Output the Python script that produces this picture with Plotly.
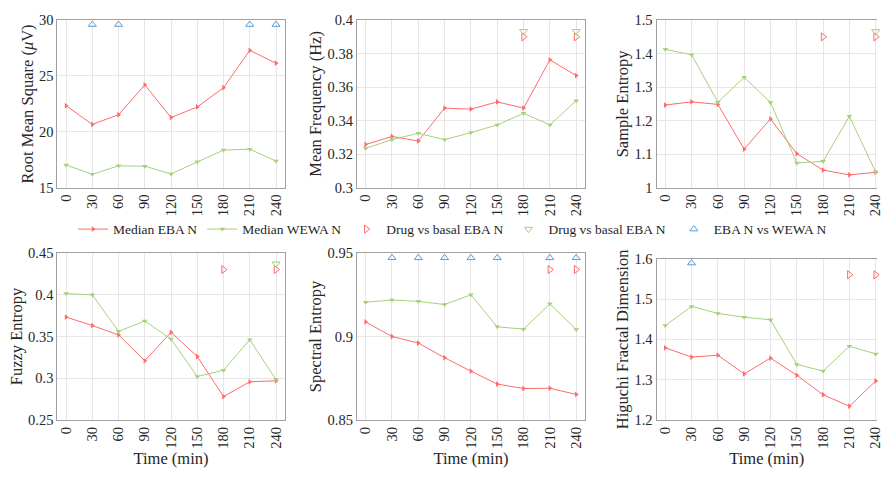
import plotly.graph_objects as go

# ---------------- data ----------------
times = [0, 30, 60, 90, 120, 150, 180, 210, 240]
x_ticks = [0, 30, 60, 90, 120, 150, 180, 210, 240]

rms_eba = [22.34, 20.67, 21.53, 24.21, 21.28, 22.23, 23.95, 27.29, 26.14]
rms_wewa = [17.04, 16.21, 16.96, 16.93, 16.24, 17.33, 18.37, 18.45, 17.39]
rms_sig_groups_t = [30, 60, 210, 240]
rms_sig_groups_y = 29.6

mf_eba = [0.3258, 0.3306, 0.3279, 0.3475, 0.3469, 0.3512, 0.3475, 0.3763, 0.3669]
mf_wewa = [0.3235, 0.3287, 0.3325, 0.3287, 0.3329, 0.3375, 0.3444, 0.3375, 0.3519]
mf_sig_drug_eba_t = [180, 240]
mf_sig_drug_eba_y = 0.390
mf_sig_drug_wewa_t = [180, 240]
mf_sig_drug_wewa_y = 0.3933

se_eba = [1.2466, 1.2562, 1.2486, 1.1152, 1.2054, 1.1017, 1.0528, 1.0384, 1.0461]
se_wewa = [1.4127, 1.3964, 1.2553, 1.3292, 1.2543, 1.0739, 1.0787, 1.2130, 1.0470]
se_sig_drug_eba_t = [180, 240]
se_sig_drug_eba_y = 1.45
se_sig_drug_wewa_t = [240]
se_sig_drug_wewa_y = 1.466

fe_eba = [0.3732, 0.3631, 0.3519, 0.3210, 0.3550, 0.3261, 0.2782, 0.2959, 0.2971]
fe_wewa = [0.4013, 0.3998, 0.3562, 0.3685, 0.3469, 0.3021, 0.3098, 0.3461, 0.2986]
fe_sig_drug_eba_t = [180, 240]
fe_sig_drug_eba_y = 0.43
fe_sig_drug_wewa_t = [240]
fe_sig_drug_wewa_y = 0.4369

spe_eba = [0.9087, 0.9000, 0.8961, 0.8873, 0.8793, 0.8716, 0.8689, 0.8691, 0.8654]
spe_wewa = [0.9205, 0.9218, 0.9210, 0.9191, 0.9249, 0.9058, 0.9044, 0.9195, 0.9042]
spe_sig_groups_t = [30, 60, 90, 120, 150, 210, 240]
spe_sig_groups_y = 0.947
spe_sig_drug_eba_t = [210, 240]
spe_sig_drug_eba_y = 0.94

hfd_eba = [1.3791, 1.3562, 1.3609, 1.3144, 1.3539, 1.3112, 1.2631, 1.2347, 1.2970]
hfd_wewa = [1.4343, 1.4817, 1.4643, 1.4549, 1.4485, 1.3381, 1.3215, 1.3830, 1.3641]
hfd_sig_groups_t = [30]
hfd_sig_groups_y = 1.589
hfd_sig_drug_eba_t = [210, 240]
hfd_sig_drug_eba_y = 1.56

ylabels = ["Root Mean Square (<i>μ</i>V)", "Mean Frequency (Hz)", "Sample Entropy",
           "Fuzzy Entropy", "Spectral Entropy", "Higuchi Fractal Dimension"]
yranges = [[15, 30], [0.3, 0.4], [1, 1.5], [0.25, 0.45], [0.85, 0.95], [1.2, 1.6]]
ytickvals = [[15, 20, 25, 30], [0.3, 0.32, 0.34, 0.36, 0.38, 0.4],
             [1, 1.1, 1.2, 1.3, 1.4, 1.5], [0.25, 0.3, 0.35, 0.4, 0.45],
             [0.85, 0.9, 0.95], [1.2, 1.3, 1.4, 1.5, 1.6]]
yticktext = [["15", "20", "25", "30"], ["0.3", "0.32", "0.34", "0.36", "0.38", "0.4"],
             ["1", "1.1", "1.2", "1.3", "1.4", "1.5"], ["0.25", "0.3", "0.35", "0.4", "0.45"],
             ["0.85", "0.9", "0.95"], ["1.2", "1.3", "1.4", "1.5", "1.6"]]

names = ["Median EBA N", "Median WEWA N", "Drug vs basal EBA N",
         "Drug vs basal EBA N ", "EBA N vs WEWA N"]

# ---------------- style ----------------
RED = "#ff6b6b"
GREEN = "#a6d07a"
BLUE = "#5b9bd5"
FONT = "Liberation Serif"
TXT = "#262626"
W, H = 883, 477

# panel geometry (pixels)
col_px = [(57.7, 286.7), (359.3, 589.0), (661.0, 890.5)]
row_px = [[(12.5, 186.0)] * 3, [(253.3, 426.5), (253.3, 426.5), (259.3, 426.5)]]

fig = go.Figure()
shown = set()


def add_line(ax, y, idx, sym, color):
    fig.add_trace(go.Scatter(
        x=times, y=y, xaxis="x" + ax, yaxis="y" + ax, mode="lines+markers",
        line=dict(color=color, width=1),
        marker=dict(symbol=sym, size=5, color=color),
        name=names[idx], legendgroup=str(idx), legendrank=idx + 1,
        showlegend=idx not in shown, cliponaxis=False))
    shown.add(idx)


def add_sig(ax, t, level, idx, sym, color):
    fig.add_trace(go.Scatter(
        x=t, y=[level] * len(t), xaxis="x" + ax, yaxis="y" + ax, mode="markers",
        marker=dict(symbol=sym, size=7, color=color, line=dict(color=color, width=1)),
        name=names[idx], legendgroup=str(idx), legendrank=idx + 1,
        showlegend=idx not in shown, cliponaxis=False))
    shown.add(idx)


panels = [
    (rms_eba, rms_wewa, [(rms_sig_groups_t, rms_sig_groups_y, 4)]),
    (mf_eba, mf_wewa, [(mf_sig_drug_eba_t, mf_sig_drug_eba_y, 2),
                       (mf_sig_drug_wewa_t, mf_sig_drug_wewa_y, 3)]),
    (se_eba, se_wewa, [(se_sig_drug_eba_t, se_sig_drug_eba_y, 2),
                       (se_sig_drug_wewa_t, se_sig_drug_wewa_y, 3)]),
    (fe_eba, fe_wewa, [(fe_sig_drug_eba_t, fe_sig_drug_eba_y, 2),
                       (fe_sig_drug_wewa_t, fe_sig_drug_wewa_y, 3)]),
    (spe_eba, spe_wewa, [(spe_sig_groups_t, spe_sig_groups_y, 4),
                         (spe_sig_drug_eba_t, spe_sig_drug_eba_y, 2)]),
    (hfd_eba, hfd_wewa, [(hfd_sig_groups_t, hfd_sig_groups_y, 4),
                         (hfd_sig_drug_eba_t, hfd_sig_drug_eba_y, 2)]),
]
sig_style = {2: ("triangle-right-open", RED), 3: ("triangle-down-open", GREEN),
             4: ("triangle-up-open", BLUE)}

layout = {}
for i, (eba, wewa, sigs) in enumerate(panels):
    ax = "" if i == 0 else str(i + 1)
    r, c = divmod(i, 3)
    add_line(ax, eba, 0, "triangle-right", RED)
    add_line(ax, wewa, 1, "triangle-down", GREEN)
    for t, lvl, idx in sigs:
        s, colr = sig_style[idx]
        add_sig(ax, t, lvl, idx, s, colr)

    x0, x1 = col_px[c]
    top, bot = row_px[r][c]
    xr = [-10, 250]
    dom_x1 = x1 / W
    if x1 > W:
        xr = [-10, -10 + (W - x0) / (x1 - x0) * 260]
        dom_x1 = 1.0
    layout["xaxis" + ax] = dict(
        domain=[x0 / W, dom_x1], range=xr, anchor="y" + ax,
        tickvals=x_ticks, ticktext=[str(v) for v in x_ticks], tickangle=-90,
        ticklabeloverflow="allow",
        showgrid=True, gridcolor="#e6e6e6", gridwidth=1, zeroline=False,
        showline=True, linecolor="#a0a0a0", linewidth=1, mirror=True,
        ticks="", tickfont=dict(family=FONT, size=14.5, color=TXT),
        title=dict(text="Time (min)" if r == 1 else "", standoff=4,
                   font=dict(family=FONT, size=16.5, color=TXT)))
    layout["yaxis" + ax] = dict(
        domain=[1 - bot / H, 1 - top / H], range=yranges[i], anchor="x" + ax,
        tickvals=ytickvals[i], ticktext=yticktext[i],
        showgrid=True, gridcolor="#e6e6e6", gridwidth=1, zeroline=False,
        showline=True, linecolor="#a0a0a0", linewidth=1, mirror=(c != 2),
        ticks="", tickfont=dict(family=FONT, size=14.5, color=TXT),
        title=dict(text=ylabels[i], standoff=1,
                   font=dict(family=FONT, size=16.5, color=TXT)))

fig.update_layout(
    **layout,
    width=W, height=H, margin=dict(l=0, r=0, t=0, b=0),
    paper_bgcolor="white", plot_bgcolor="white",
    font=dict(family=FONT, color=TXT),
    legend=dict(orientation="h", x=0.516, y=1 - 229 / H, xanchor="center", yanchor="middle",
                font=dict(family=FONT, size=13.5, color=TXT), itemwidth=30,
                bgcolor="rgba(0,0,0,0)", traceorder="normal"),
)

fig.write_html("out.html")
